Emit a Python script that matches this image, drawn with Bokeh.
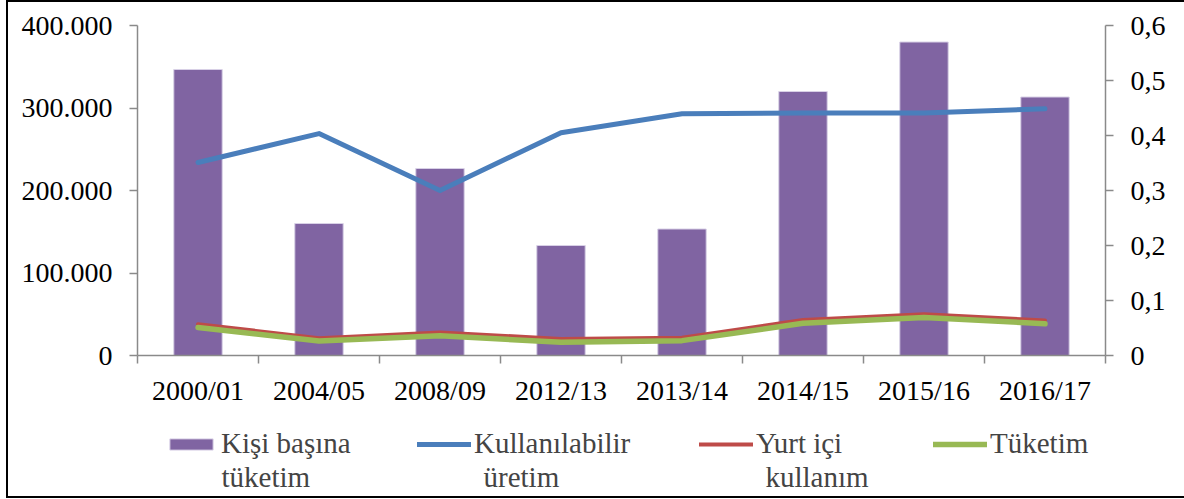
from bokeh.plotting import figure
from bokeh.layouts import column
from bokeh.models import (Range1d, LinearAxis, FixedTicker, CustomJSTickFormatter,
                          Legend, LegendItem, ColumnDataSource, Label)
from bokeh.embed import file_html
from bokeh.resources import INLINE

categories = ["2000/01", "2004/05", "2008/09", "2012/13", "2013/14", "2014/15", "2015/16", "2016/17"]
kisi_basina = [0.52, 0.24, 0.34, 0.20, 0.23, 0.48, 0.57, 0.47]          # right axis
kullanilabilir = [234000, 269000, 200000, 270000, 293000, 294000, 294000, 299000]
yurt_ici = [38000, 21000, 28000, 20000, 21500, 43000, 50000, 42500]
tuketim = [34000, 17500, 24000, 16000, 18000, 39000, 46000, 38500]
left_ticks = [0, 100000, 200000, 300000, 400000]
right_ticks = [0, 0.1, 0.2, 0.3, 0.4, 0.5, 0.6]
legend_line1 = ["Kişi başına", "Kullanılabilir", "Yurt içi", "Tüketim"]
legend_line2 = ["tüketim", "üretim", "kullanım", ""]

FONT = "Liberation Serif"
FS = "28px"
LFS = "29px"
AXC = "#8a8a8a"
W = 1176
H1 = 410
H2 = 84

BAR = dict(fill_color="#8064A2", line_color="#d8d0e6", line_width=1)
BLUE = dict(line_color="#4A7EBB", line_width=5, line_join="round", line_cap="round")
RED = dict(line_color="#BE4B48", line_width=4, line_join="round", line_cap="round")
GREEN = dict(line_color="#98B954", line_width=5.5, line_join="round", line_cap="round")

xs = [i + 0.5 for i in range(len(categories))]
src = ColumnDataSource(dict(x=xs, bar=kisi_basina, blue=kullanilabilir, red=yurt_ici, green=tuketim))

p = figure(width=W, height=H1, output_backend="svg", toolbar_location=None,
           x_range=Range1d(0, len(categories)), y_range=Range1d(0, 400000),
           x_axis_location=None, y_axis_location=None,
           min_border_left=129, min_border_right=79, min_border_top=23, min_border_bottom=57)
p.outline_line_color = None
p.xgrid.visible = False
p.ygrid.visible = False
p.extra_y_ranges = {"right": Range1d(0, 0.6)}

p.vbar(x="x", top="bar", width=0.4, source=src, y_range_name="right", **BAR)
p.line(x="x", y="blue", source=src, **BLUE)
p.line(x="x", y="red", source=src, **RED)
p.line(x="x", y="green", source=src, **GREEN)

def style_axis(ax):
    ax.axis_line_color = AXC
    ax.axis_line_width = 1.5
    ax.major_tick_line_color = AXC
    ax.major_tick_line_width = 1.5
    ax.minor_tick_line_color = AXC
    ax.minor_tick_line_width = 1.5
    ax.major_label_text_font = FONT
    ax.major_label_text_font_size = FS
    ax.major_label_text_color = "black"

left = LinearAxis(ticker=FixedTicker(ticks=left_ticks),
                  formatter=CustomJSTickFormatter(code="""
                      if (tick == 0) return "0";
                      return (tick/1000).toFixed(0) + ".000";"""))
style_axis(left)
left.major_tick_out = 8
left.major_tick_in = 0
left.minor_tick_out = 0
left.major_label_standoff = 17
p.add_layout(left, "left")

right = LinearAxis(y_range_name="right", ticker=FixedTicker(ticks=right_ticks),
                   formatter=CustomJSTickFormatter(code="""
                      if (tick == 0) return "0";
                      return tick.toFixed(1).replace(".", ",");"""))
style_axis(right)
right.major_tick_out = 8
right.major_tick_in = 0
right.minor_tick_out = 0
right.major_label_standoff = 17
p.add_layout(right, "right")

bottom = LinearAxis(ticker=FixedTicker(ticks=xs, minor_ticks=list(range(len(categories) + 1))),
                    formatter=CustomJSTickFormatter(args=dict(cats=categories), code="""
                      return cats[Math.round(tick - 0.5)];"""))
style_axis(bottom)
bottom.major_tick_out = 0
bottom.major_tick_in = 0
bottom.minor_tick_out = 8
bottom.minor_tick_in = 0
bottom.major_label_standoff = 11
p.add_layout(bottom, "below")

# legend strip (its own figure, below the chart)
q = figure(width=W, height=H2, output_backend="svg", toolbar_location=None,
           x_range=Range1d(0, 1), y_range=Range1d(0, 1),
           x_axis_location=None, y_axis_location=None,
           min_border=0, min_border_left=0, min_border_right=0, min_border_top=0, min_border_bottom=0)
q.outline_line_color = None
q.xgrid.visible = False
q.ygrid.visible = False
r_bar = q.vbar(x="x", top="bar", width=0.4, source=src, visible=False, **BAR)
r_blue = q.line(x="x", y="blue", source=src, visible=False, **BLUE)
r_red = q.line(x="x", y="red", source=src, visible=False, **RED)
r_green = q.line(x="x", y="green", source=src, visible=False, **GREEN)

legend_x = [27, 280, 562, 796]      # screen px from the strip frame's left edge
second_x = [84, 346, 628, 0]
for rend, t1, t2, lx, sx in zip([r_bar, r_blue, r_red, r_green], legend_line1, legend_line2, legend_x, second_x):
    lgd = Legend(items=[LegendItem(label=t1, renderers=[rend])], location=(lx, 36))
    lgd.background_fill_alpha = 0
    lgd.border_line_color = None
    lgd.padding = 0
    lgd.margin = 0
    lgd.glyph_width = 54
    lgd.glyph_height = 14
    lgd.label_standoff = 3
    lgd.label_text_font = FONT
    lgd.label_text_font_size = LFS
    q.add_layout(lgd, "center")
    if t2:
        q.add_layout(Label(x=sx, y=20, x_units="screen", y_units="screen", text=t2,
                           text_font=FONT, text_font_size=LFS, text_baseline="middle"))

layout = column(p, q, spacing=0)
layout.styles = {"border": "2px solid black", "border-right": "none", "margin-left": "6px"}

open("out.html", "w").write(file_html(layout, INLINE))
